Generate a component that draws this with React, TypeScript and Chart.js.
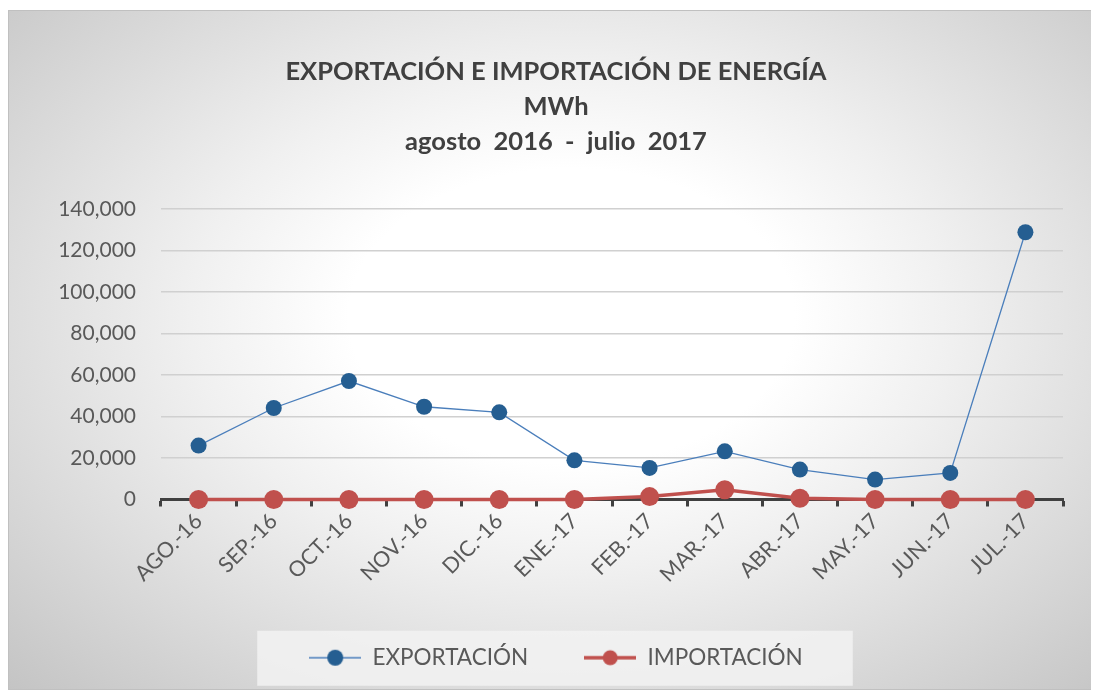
import React, { useEffect, useRef } from "react";
import { Chart, registerables } from "chart.js";

Chart.register(...registerables);

const categories = ["AGO.-16", "SEP.-16", "OCT.-16", "NOV.-16", "DIC.-16", "ENE.-17", "FEB.-17", "MAR.-17", "ABR.-17", "MAY.-17", "JUN.-17", "JUL.-17"];
const exportacion = [26000, 44100, 57100, 44700, 42000, 18900, 15200, 23200, 14400, 9600, 12800, 128800];
const importacion = [0, 0, 0, 0, 0, 0, 1400, 4700, 600, 0, 0, 0];
const titleLines = ["EXPORTACIÓN E IMPORTACIÓN DE ENERGÍA", "MWh", "agosto  2016  -  julio  2017"];
const seriesNames = ["EXPORTACIÓN", "IMPORTACIÓN"];

const FONT = "Lato, 'Open Sans', sans-serif";

function makeIcon(lineColor: string, lineWidth: number, dotColor: string, r: number) {
  const c = document.createElement("canvas");
  c.width = 52;
  c.height = 20;
  const ctx = c.getContext("2d")!;
  ctx.strokeStyle = lineColor;
  ctx.lineWidth = lineWidth;
  ctx.beginPath();
  ctx.moveTo(0, 10);
  ctx.lineTo(52, 10);
  ctx.stroke();
  ctx.fillStyle = dotColor;
  ctx.beginPath();
  ctx.arc(26, 10, r, 0, Math.PI * 2);
  ctx.fill();
  return c;
}

const legendBoxPlugin = {
  id: "legendBox",
  beforeDraw(chart: any) {
    const lg = chart.legend;
    if (!lg || !lg.legendHitBoxes || !lg.legendHitBoxes.length) return;
    const hb = lg.legendHitBoxes;
    const first = hb[0];
    const last = hb[hb.length - 1];
    const cy = first.top + first.height / 2;
    const left = first.left - 52;
    const right = last.left + last.width + 50;
    const ctx = chart.ctx;
    ctx.save();
    ctx.fillStyle = "rgba(242,242,242,0.85)";
    ctx.fillRect(left, cy - 27, right - left, 55);
    ctx.restore();
  },
};

export default function App() {
  const ref = useRef<HTMLCanvasElement>(null);
  useEffect(() => {
    const iconBlue = makeIcon("#4a7ebb", 1.5, "#255e91", 8);
    const iconRed = makeIcon("#c0504d", 3.5, "#c0504d", 7.5);
    const chart = new Chart(ref.current!, {
      type: "line",
      data: {
        labels: categories,
        datasets: [
          {
            label: seriesNames[0],
            data: exportacion,
            borderColor: "#4a7ebb",
            borderWidth: 1.3,
            pointRadius: 8,
            pointBackgroundColor: "#255e91",
            pointBorderColor: "#255e91",
            pointBorderWidth: 0,
            tension: 0,
            clip: false,
          },
          {
            label: seriesNames[1],
            data: importacion,
            borderColor: "#c0504d",
            borderWidth: 3.5,
            pointRadius: 9.5,
            pointBackgroundColor: "#c0504d",
            pointBorderColor: "#c0504d",
            pointBorderWidth: 0,
            tension: 0,
            clip: false,
          },
        ],
      },
      plugins: [legendBoxPlugin],
      options: {
        animation: false,
        responsive: false,
        maintainAspectRatio: false,
        layout: { padding: { left: 40, right: 28, top: 0, bottom: 10 } },
        plugins: {
          tooltip: { enabled: false },
          title: {
            display: true,
            text: titleLines,
            color: "#404040",
            font: { family: FONT, size: 25.5, weight: "bold", lineHeight: 35 / 25.5 },
            padding: { top: 43.5, bottom: 49.5 },
          },
          legend: {
            position: "bottom",
            labels: {
              usePointStyle: true,
              pointStyleWidth: 52,
              color: "#595959",
              font: { family: FONT, size: 22.5 },
              padding: 56,
              generateLabels: () => [
                { text: seriesNames[0], pointStyle: iconBlue as any, fillStyle: "#255e91", strokeStyle: "#4a7ebb", lineWidth: 0, datasetIndex: 0, hidden: false, fontColor: "#595959" },
                { text: seriesNames[1], pointStyle: iconRed as any, fillStyle: "#c0504d", strokeStyle: "#c0504d", lineWidth: 0, datasetIndex: 1, hidden: false, fontColor: "#595959" },
              ],
            },
          },
        },
        scales: {
          x: {
            offset: true,
            grid: { display: true, offset: true, drawOnChartArea: false, drawTicks: true, tickLength: 7, tickWidth: 3, tickColor: "#404040" },
            border: { display: true, color: "#404040", width: 3 },
            ticks: {
              color: "#595959",
              font: { family: FONT, size: 21.5 },
              minRotation: 45,
              maxRotation: 45,
              autoSkip: false,
              padding: 2,
            },
            afterFit: (s: any) => {
              s.height = 91;
            },
          },
          y: {
            min: 0,
            max: 140000,
            grid: { color: "#d0d0d0", lineWidth: 1.5, drawTicks: false },
            border: { display: false },
            ticks: {
              stepSize: 20000,
              color: "#595959",
              font: { family: FONT, size: 21 },
              padding: 25,
              callback: (v: any) => Number(v).toLocaleString("en-US"),
            },
            afterFit: (s: any) => {
              s.width = 112;
            },
          },
        },
      },
    });
    return () => chart.destroy();
  }, []);
  return (
    <div
      style={{
        marginTop: 2,
        width: 1082,
        height: 678,
        border: "1px solid #c0c0c0",
        background: "radial-gradient(ellipse farthest-corner at 52% 45%, #ffffff 28%, #f0f0f0 48%, #c4c4c4 100%)",
      }}
    >
      <canvas ref={ref} width={1082} height={678} style={{ display: "block" }} />
    </div>
  );
}
